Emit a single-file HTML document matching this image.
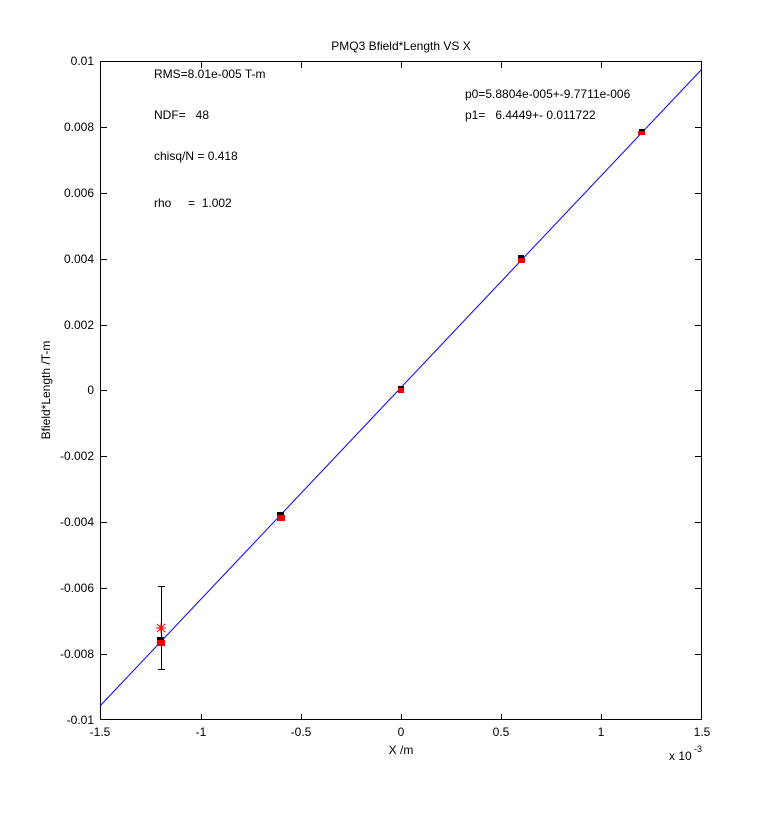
<!DOCTYPE html>
<html><head><style>
body{margin:0;background:#fff;}
svg text{font-family:"Liberation Sans",sans-serif;font-size:12px;fill:#000;white-space:pre;}
</style></head><body>
<svg width="776" height="810" xmlns="http://www.w3.org/2000/svg" xml:space="preserve">
<rect width="776" height="810" fill="#fff"/>
<rect x="100.5" y="61.5" width="601" height="658" fill="#fff" stroke="#000"/>
<g stroke="#000">
<path d="M100.5 720v-6M201.5 720v-6M301.5 720v-6M401.5 720v-6M501.5 720v-6M601.5 720v-6M701.5 720v-6
M100.5 62v6M201.5 62v6M301.5 62v6M401.5 62v6M501.5 62v6M601.5 62v6M701.5 62v6"/>
<path d="M101 61.5h6M101 127.5h6M101 193.5h6M101 259.5h6M101 325.5h6M101 390.5h6M101 456.5h6M101 522.5h6M101 588.5h6M101 654.5h6M101 719.5h6
M701 61.5h-6M701 127.5h-6M701 193.5h-6M701 259.5h-6M701 325.5h-6M701 390.5h-6M701 456.5h-6M701 522.5h-6M701 588.5h-6M701 654.5h-6M701 719.5h-6"/>
</g>
<g text-anchor="middle">
<text x="100" y="736">-1.5</text><text x="201" y="736">-1</text><text x="301" y="736">-0.5</text><text x="401" y="736">0</text><text x="501" y="736">0.5</text><text x="601" y="736">1</text><text x="702" y="736">1.5</text>
</g>
<g text-anchor="end">
<text x="94" y="65">0.01</text><text x="94" y="131">0.008</text><text x="94" y="197">0.006</text><text x="94" y="263">0.004</text><text x="94" y="329">0.002</text><text x="94" y="394">0</text><text x="94" y="460">-0.002</text><text x="94" y="526">-0.004</text><text x="94" y="592">-0.006</text><text x="94" y="658">-0.008</text><text x="94" y="724">-0.01</text>
</g>
<text x="669" y="760">x 10</text><text x="694" y="752" style="font-size:9px">-3</text>
<text x="401" y="754" text-anchor="middle">X /m</text>
<text x="50" y="390" text-anchor="middle" transform="rotate(-90 50 390)">Bfield*Length /T-m</text>
<text x="401" y="50" text-anchor="middle">PMQ3 Bfield*Length VS X</text>
<text x="154" y="78">RMS=8.01e-005 T-m</text>
<text x="154" y="119">NDF=   48</text>
<text x="154" y="160">chisq/N = 0.418</text>
<text x="154" y="207">rho     =  1.002</text>
<text x="465" y="98">p0=5.8804e-005+-9.7711e-006</text>
<text x="465" y="119">p1=   6.4449+- 0.011722</text>
<line x1="100" y1="706" x2="702" y2="69" stroke="#0000ff" stroke-width="1"/>
<g stroke="#000">
<path d="M161.5 586v84M158 586.5h7M158 669.5h7"/>
</g>
<g stroke="#f00" stroke-width="1">
<path d="M156 628h10M161 623v10M157 624l8 8M165 624l-8 8"/>
</g>
<rect x="157" y="637" width="7" height="7" fill="#000"/>
<rect x="157" y="640" width="8" height="6" fill="#e00"/>
<rect x="277" y="512" width="7" height="8" fill="#000"/>
<rect x="277" y="515" width="8" height="6" fill="#e00"/>
<rect x="398" y="386" width="6" height="6" fill="#000"/>
<rect x="398" y="388" width="6" height="5" fill="#e00"/>
<rect x="518" y="255" width="6" height="8" fill="#000"/>
<rect x="518" y="258" width="7" height="5" fill="#e00"/>
<rect x="639" y="129" width="6" height="6" fill="#000"/>
<rect x="638" y="131" width="7" height="4" fill="#e00"/>
</svg>
</body></html>
